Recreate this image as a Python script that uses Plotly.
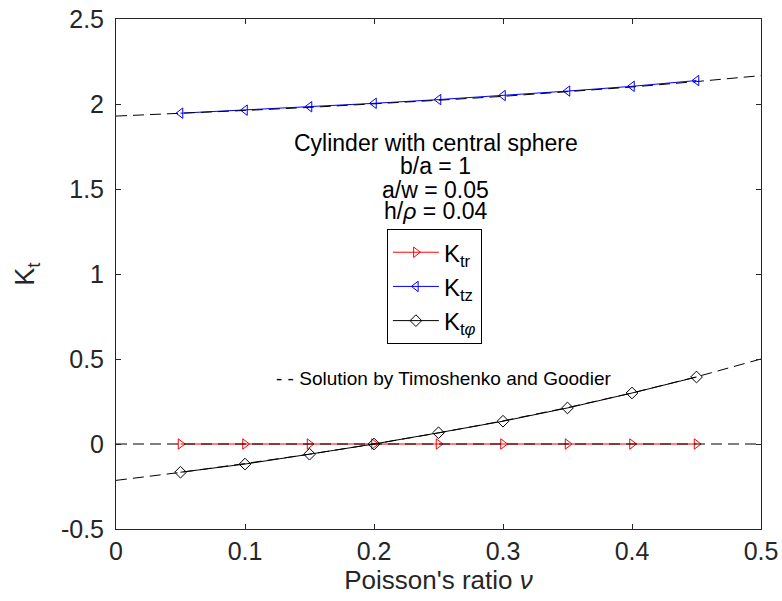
import plotly.graph_objects as go

# numerical results
nu = [0.05, 0.10, 0.15, 0.20, 0.25, 0.30, 0.35, 0.40, 0.45]
K_tr = [0, 0, 0, 0, 0, 0, 0, 0, 0]
K_tz = [1.946, 1.964, 1.984, 2.004, 2.026, 2.050, 2.076, 2.104, 2.138]
K_tphi = [-0.166, -0.118, -0.060, 0.000, 0.066, 0.134, 0.212, 0.300, 0.394]

# Timoshenko & Goodier reference curves
nu_ref = [0.0, 0.05, 0.10, 0.15, 0.20, 0.25, 0.30, 0.35, 0.40, 0.45, 0.50]
ref_tz = [1.929, 1.944, 1.962, 1.980, 2.000, 2.022, 2.045, 2.071, 2.100, 2.132, 2.167]
ref_tphi = [-0.214, -0.167, -0.115, -0.060, 0.000, 0.065, 0.136, 0.214, 0.300, 0.395, 0.500]
ref_tr = [0, 0, 0, 0, 0, 0, 0, 0, 0, 0, 0]

x_ticks = [0, 0.1, 0.2, 0.3, 0.4, 0.5]
x_ticktext = ["0", "0.1", "0.2", "0.3", "0.4", "0.5"]
y_ticks = [-0.5, 0, 0.5, 1, 1.5, 2, 2.5]
y_ticktext = ["-0.5", "0", "0.5", "1", "1.5", "2", "2.5"]

FONT = "Liberation Sans, Arial, Helvetica, sans-serif"
AX = "#262626"

fig = go.Figure()

fig.add_trace(go.Scatter(
    x=nu, y=K_tr, mode="lines+markers", name="K<sub>tr</sub>",
    line=dict(color="red", width=1),
    marker=dict(symbol="triangle-right-open", size=9, color="red", line=dict(width=1)),
))
fig.add_trace(go.Scatter(
    x=nu, y=K_tz, mode="lines+markers", name="K<sub>tz</sub>",
    line=dict(color="blue", width=1),
    marker=dict(symbol="triangle-left-open", size=9, color="blue", line=dict(width=1)),
))
fig.add_trace(go.Scatter(
    x=nu, y=K_tphi, mode="lines+markers", name="K<sub>t<i>φ</i></sub>",
    line=dict(color="black", width=1),
    marker=dict(symbol="diamond-open", size=9, color="black", line=dict(width=1)),
))

for yy in (ref_tz, ref_tphi, ref_tr):
    fig.add_trace(go.Scatter(
        x=nu_ref, y=yy, mode="lines", showlegend=False,
        line=dict(color="black", width=1, dash="11px,6px"), hoverinfo="skip",
    ))

def note(text, y, size):
    return dict(text=text, x=0.248, y=y, xref="x", yref="y", showarrow=False,
                font=dict(size=size, color="black", family=FONT))

annotations = [
    note("Cylinder with central sphere", 1.77, 23),
    note("b/a = 1", 1.635, 23),
    note("a/w = 0.05", 1.494, 23),
    note("h/<i>ρ</i> = 0.04", 1.37, 23),
    dict(text="- - Solution by Timoshenko and Goodier", x=0.2535, y=0.385, xref="x", yref="y",
         showarrow=False, font=dict(size=19, color="black", family=FONT)),
]

fig.update_layout(
    width=782, height=601,
    margin=dict(l=116, r=21, t=19, b=72),
    paper_bgcolor="white", plot_bgcolor="white",
    font=dict(family=FONT, color=AX),
    annotations=annotations,
    showlegend=True,
    legend=dict(
        x=0.42, y=0.588, xanchor="left", yanchor="top",
        bgcolor="white", bordercolor="black", borderwidth=1,
        font=dict(size=24, color="black", family=FONT),
        tracegroupgap=0, itemwidth=46,
    ),
    xaxis=dict(
        range=[0, 0.5], tickvals=x_ticks, ticktext=x_ticktext,
        showgrid=False, zeroline=False, showline=True, linecolor=AX, linewidth=1,
        mirror="allticks", ticks="inside", ticklen=5, tickcolor=AX,
        tickfont=dict(size=25, color=AX, family=FONT),
        title=dict(text="Poisson's ratio <i>ν</i>", font=dict(size=26, color=AX, family=FONT), standoff=0),
        automargin=False,
    ),
    yaxis=dict(
        range=[-0.5, 2.5], tickvals=y_ticks, ticktext=y_ticktext,
        showgrid=False, zeroline=False, showline=True, linecolor=AX, linewidth=1,
        mirror="allticks", ticks="inside", ticklen=5, tickcolor=AX,
        tickfont=dict(size=25, color=AX, family=FONT), ticklabelstandoff=6,
        title=dict(text="K<sub>t</sub>", font=dict(size=27, color=AX, family=FONT), standoff=18),
        automargin=False,
    ),
)

fig.write_html("out.html")
